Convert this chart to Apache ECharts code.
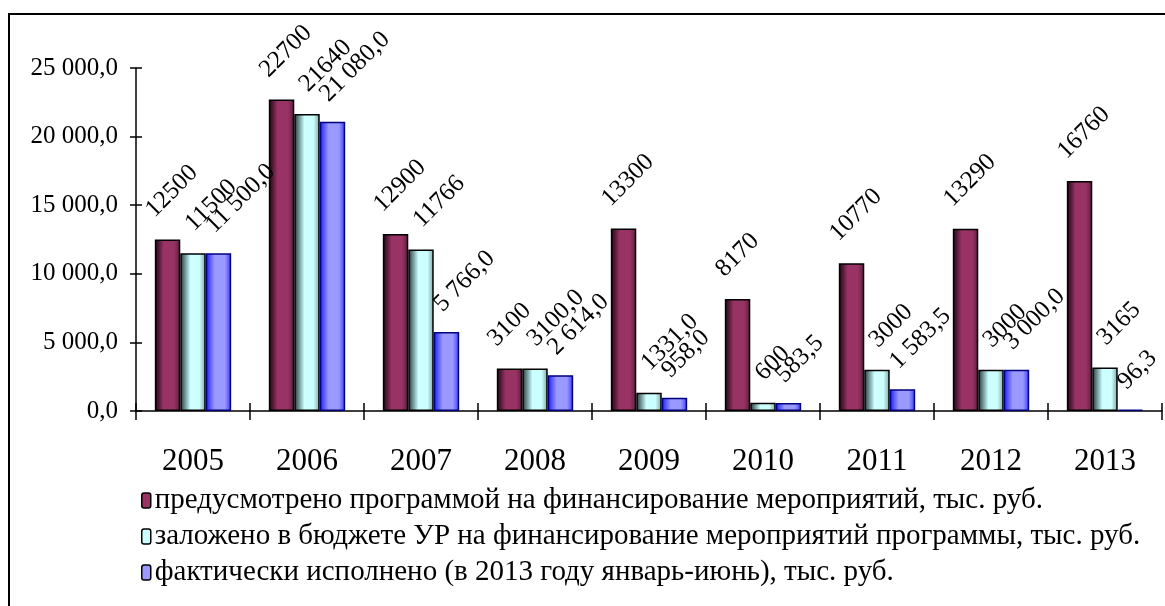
<!DOCTYPE html>
<html>
<head>
<meta charset="utf-8">
<script src="https://cdn.jsdelivr.net/npm/echarts@6/dist/echarts.min.js"></script>
<style>
  html, body { margin: 0; padding: 0; background: #fff; }
  #chart { width: 1165px; height: 606px; }
</style>
</head>
<body>
<div id="chart"></div>
<script>
// годы
var years = ['2005', '2006', '2007', '2008', '2009', '2010', '2011', '2012', '2013'];
// предусмотрено программой
var planned = [12500, 22700, 12900, 3100, 13300, 8170, 10770, 13290, 16760];
// заложено в бюджете УР
var budget = [11500, 21640, 11766, 3100, 1331, 600, 3000, 3000, 3165];
var budgetLabels = ['11500', '21640', '11766', '3100,0', '1331,0', '600', '3000', '3000', '3165'];
// фактически исполнено
var actual = [11500, 21080, 5766, 2614, 958, 583.5, 1583.5, 3000, 96.3];
var seriesNames = [
  'предусмотрено программой на финансирование мероприятий, тыс. руб.',
  'заложено в бюджете УР на финансирование мероприятий программы, тыс. руб.',
  'фактически исполнено (в 2013 году январь-июнь), тыс. руб.'
];

var FONT = '"Liberation Serif", "Times New Roman", serif';

// число в виде "11 500,0"
function fmt(v) {
  var s = v.toFixed(1).split('.');
  var intPart = s[0].replace(/\B(?=(\d{3})+(?!\d))/g, ' ');
  return intPart + ',' + s[1];
}

function grad(stops) {
  return new echarts.graphic.LinearGradient(0, 0, 1, 0, stops);
}

var labelBase = {
  show: true,
  position: 'top',
  rotate: 45,
  align: 'left',
  verticalAlign: 'middle',
  distance: 0,
  fontFamily: FONT,
  fontSize: 25,
  color: '#000'
};

var chart = echarts.init(document.getElementById('chart'));
var option = {
  animation: false,
  backgroundColor: '#fff',
  textStyle: { fontFamily: FONT },
  graphic: [{
    type: 'rect',
    shape: { x: 9, y: 14, width: 1170, height: 600 },
    style: { fill: 'none', stroke: '#000', lineWidth: 2 },
    silent: true
  }],
  grid: { left: 136, right: 3, top: 68, bottom: 195 },
  legend: {
    orient: 'vertical',
    left: 136,
    top: 481,
    itemWidth: 9,
    itemHeight: 15,
    itemGap: 7,
    textStyle: { fontFamily: FONT, fontSize: 29, lineHeight: 28, color: '#000', padding: [0, 0, 0, -1] },
    data: [
      { name: seriesNames[0], itemStyle: { color: '#993366', borderColor: '#000', borderWidth: 1.5 } },
      { name: seriesNames[1], itemStyle: { color: '#ccffff', borderColor: '#000', borderWidth: 1.5 } },
      { name: seriesNames[2], itemStyle: { color: '#9999ff', borderColor: '#000', borderWidth: 1.5 } }
    ]
  },
  xAxis: [{
    type: 'category',
    data: years,
    axisLine: { lineStyle: { color: '#000', width: 1.5 } },
    axisTick: { show: true, length: 9, lineStyle: { color: '#000', width: 1.5 } },
    axisLabel: { fontFamily: FONT, fontSize: 31, color: '#000', margin: 35 }
  }, {
    type: 'category',
    data: years,
    position: 'bottom',
    axisLine: { show: false },
    axisTick: { show: true, inside: true, length: 8, lineStyle: { color: '#000', width: 1.5 } },
    axisLabel: { show: false }
  }],
  yAxis: [{
    type: 'value',
    min: 0,
    max: 25000,
    interval: 5000,
    axisLine: { show: true, lineStyle: { color: '#000', width: 1.5 } },
    axisTick: { show: true, length: 6, lineStyle: { color: '#000', width: 1.5 } },
    splitLine: { show: false },
    axisLabel: {
      fontFamily: FONT, fontSize: 25, color: '#000', margin: 18,
      formatter: function (v) { return fmt(v); }
    }
  }, {
    type: 'value',
    min: 0,
    max: 25000,
    interval: 5000,
    position: 'left',
    axisLine: { show: false },
    axisTick: { show: true, inside: true, length: 6, lineStyle: { color: '#000', width: 1.5 } },
    splitLine: { show: false },
    axisLabel: { show: false }
  }],
  series: [{
    name: seriesNames[0],
    type: 'bar',
    data: planned,
    barGap: '0%',
    barCategoryGap: '33%',
    itemStyle: {
      color: grad([
        { offset: 0, color: '#1a0610' },
        { offset: 0.35, color: '#993366' },
        { offset: 0.75, color: '#993366' },
        { offset: 1, color: '#5a1e3c' }
      ]),
      borderColor: '#000',
      borderWidth: 1.5
    },
    // смещение задаётся в повёрнутой системе координат подписи
    label: Object.assign({}, labelBase, {
      offset: [6, -31],
      formatter: function (p) { return String(p.value); }
    })
  }, {
    name: seriesNames[1],
    type: 'bar',
    data: budget,
    barGap: '0%',
    barCategoryGap: '33%',
    itemStyle: {
      color: grad([
        { offset: 0, color: '#203535' },
        { offset: 0.4, color: '#ccffff' },
        { offset: 0.75, color: '#ccffff' },
        { offset: 1, color: '#7fa3a3' }
      ]),
      borderColor: '#000',
      borderWidth: 1.5
    },
    label: Object.assign({}, labelBase, {
      offset: [16, -21],
      formatter: function (p) { return budgetLabels[p.dataIndex]; }
    })
  }, {
    name: seriesNames[2],
    type: 'bar',
    data: actual,
    barGap: '0%',
    barCategoryGap: '33%',
    itemStyle: {
      color: grad([
        { offset: 0, color: '#1a1aff' },
        { offset: 0.35, color: '#9999ff' },
        { offset: 0.75, color: '#9999ff' },
        { offset: 1, color: '#3a3aff' }
      ]),
      borderColor: '#000080',
      borderWidth: 1.5
    },
    label: Object.assign({}, labelBase, {
      offset: [11, -23],
      formatter: function (p) { return fmt(p.value); }
    })
  }]
};
chart.setOption(option);
</script>
</body>
</html>
